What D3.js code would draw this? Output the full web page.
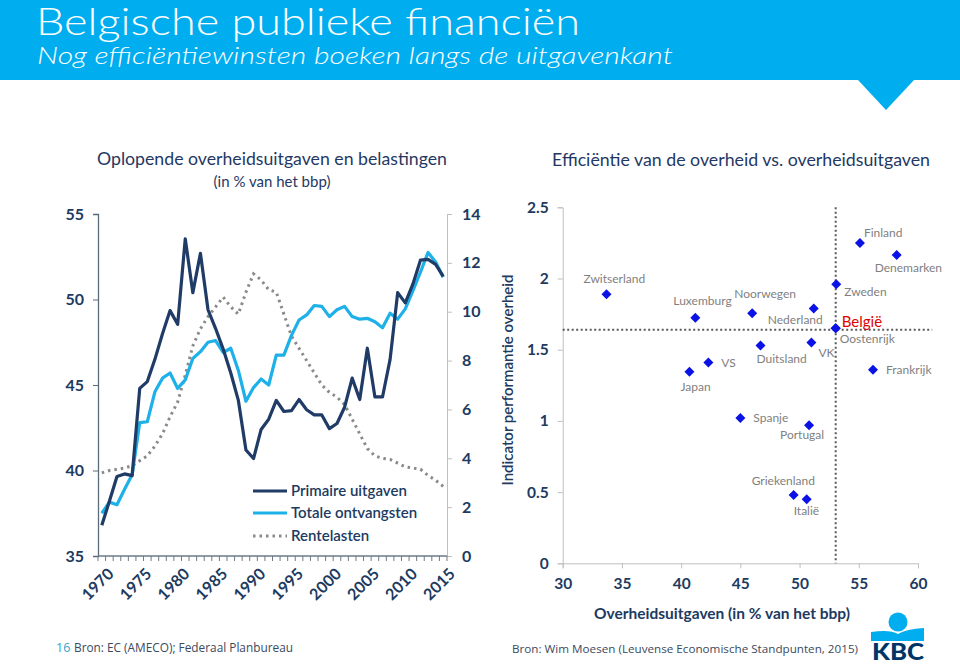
<!DOCTYPE html>
<html><head><meta charset="utf-8">
<script src="https://cdn.jsdelivr.net/npm/d3@7"></script>
<style>
html,body{margin:0;padding:0;background:#fff;}
svg{display:block;font-family:Lato,"Open Sans",sans-serif;}
</style></head>
<body>
<svg id="c" width="960" height="666"></svg>
<script>
// ---------- DATA ----------
const years = d3.range(1970, 2016);
const yearLabels = [1970,1975,1980,1985,1990,1995,2000,2005,2010,2015];
const primaireUitgaven = [36.8,38.2,39.65,39.8,39.7,44.8,45.2,46.5,48.0,49.35,48.55,53.55,50.4,52.7,49.4,48.3,47.1,45.7,44.1,41.2,40.7,42.4,43.0,44.1,43.45,43.5,44.15,43.55,43.25,43.25,42.45,42.75,43.7,45.4,44.15,47.15,44.3,44.3,46.5,50.4,49.8,50.9,52.3,52.35,52.05,51.35];
const totaleOntvangsten = [37.5,38.15,38.0,38.9,39.75,42.8,42.85,44.6,45.4,45.7,44.8,45.3,46.55,46.95,47.5,47.6,46.9,47.15,45.85,44.05,44.85,45.35,45.0,46.75,46.75,47.9,48.8,49.1,49.65,49.6,49.0,49.4,49.6,49.0,48.85,48.9,48.7,48.35,49.2,48.85,49.45,50.5,51.6,52.75,52.2,51.3];
const rentelasten = [3.4,3.5,3.55,3.6,3.7,3.9,4.1,4.5,5.0,5.7,6.3,7.4,8.6,9.3,9.8,10.2,10.6,10.2,9.9,10.8,11.55,11.3,10.9,10.8,9.9,9.0,8.5,8.0,7.5,7.0,6.7,6.5,6.2,5.6,5.0,4.4,4.1,4.0,3.95,3.8,3.65,3.6,3.55,3.3,3.1,2.85];
const leftTicks = [35,40,45,50,55];
const rightTicks = [0,2,4,6,8,10,12,14];
const seriesNames = ["Primaire uitgaven","Totale ontvangsten","Rentelasten"];

const countries = ["Zwitserland","Luxemburg","Noorwegen","Nederland","Zweden","België","Oostenrijk","Finland","Denemarken","VK","Duitsland","VS","Japan","Frankrijk","Spanje","Portugal","Griekenland","Italië"];
const uitgaven = [33.7,41.2,46.0,51.2,53.1,53.05,53.05,55.1,58.2,51.0,46.7,42.3,40.7,56.2,45.0,50.8,49.5,50.6];
const performantie = [1.89,1.725,1.756,1.79,1.96,1.65,1.65,2.25,2.165,1.55,1.53,1.41,1.345,1.36,1.02,0.97,0.48,0.45];
const belgieRef = {x: 53.05, y: 1.64};
const xTicksR = [30,35,40,45,50,55,60];
const yTicksR = [0,0.5,1,1.5,2,2.5];

// label offsets (layout only)
const labelPos = {
  "Zwitserland":[-23,-11,"start"], "Luxemburg":[-22,-13,"start"], "Noorwegen":[-18,-15,"start"],
  "Nederland":[9,16,"end"], "Zweden":[8,12,"start"], "België":[6,-1,"start"], "Oostenrijk":[4,15,"start"],
  "Finland":[4,-6,"start"], "Denemarken":[-22,17,"start"], "VK":[7,14,"start"], "Duitsland":[-4,18,"start"],
  "VS":[13,4,"start"], "Japan":[-9,19,"start"], "Frankrijk":[13,4,"start"], "Spanje":[13,4,"start"],
  "Portugal":[-29,14,"start"], "Griekenland":[-42,-10,"start"], "Italië":[-13,16,"start"]
};

// ---------- DRAW ----------
const svg = d3.select("#c");
const navy = "#1f3864";
const lblNavy = "#203a60";

// header
svg.append("rect").attr("x",0).attr("y",0).attr("width",960).attr("height",80).attr("fill","#00aeef");
svg.append("path").attr("d","M858,80 L914,80 L886,110 Z").attr("fill","#00aeef");
svg.append("text").attr("x",36).attr("y",35).attr("fill","#fff").attr("font-size",37).attr("font-weight",300)
  .attr("textLength",544).attr("lengthAdjust","spacingAndGlyphs")
  .text("Belgische publieke financiën");
svg.append("text").attr("x",37).attr("y",64).attr("fill","#fff").attr("font-size",24).attr("font-style","italic").attr("font-weight",300)
  .attr("textLength",636).attr("lengthAdjust","spacingAndGlyphs")
  .text("Nog efficiëntiewinsten boeken langs de uitgavenkant");

// titles
svg.append("text").attr("x",272).attr("y",165).attr("text-anchor","middle").attr("fill",navy).attr("font-size",17.5)
  .attr("textLength",350).attr("lengthAdjust","spacingAndGlyphs")
  .text("Oplopende overheidsuitgaven en belastingen");
svg.append("text").attr("x",272).attr("y",187).attr("text-anchor","middle").attr("fill",navy).attr("font-size",15)
  .text("(in % van het bbp)");
svg.append("text").attr("x",741).attr("y",166).attr("text-anchor","middle").attr("fill",navy).attr("font-size",17.8)
  .attr("textLength",378).attr("lengthAdjust","spacingAndGlyphs")
  .text("Efficiëntie van de overheid vs. overheidsuitgaven");

// ---- left chart ----
const xL = d3.scaleBand().domain(years).range([98,447]);
const yL = d3.scaleLinear().domain([35,55]).range([556,214]);
const yR = d3.scaleLinear().domain([0,14]).range([556,214]);
const cx = d => xL(d) + xL.bandwidth()/2;

const gl = svg.append("g");
const la = gl.append("g").attr("transform","translate(98,0)")
  .call(d3.axisLeft(yL).tickValues(leftTicks).tickSize(5).tickPadding(9));
la.select(".domain").attr("stroke","#5c6b7a").attr("stroke-width",1.3);
la.selectAll(".tick line").attr("stroke","#5c6b7a");
la.selectAll("text").attr("fill",lblNavy).attr("font-size",16).attr("font-weight",700).attr("font-family","Lato");
const ra = gl.append("g").attr("transform","translate(447,0)")
  .call(d3.axisRight(yR).tickValues(rightTicks).tickSize(5).tickPadding(10));
ra.select(".domain").attr("stroke","#bfbfbf");
ra.selectAll(".tick line").attr("stroke","#bfbfbf");
ra.selectAll("text").attr("fill",lblNavy).attr("font-size",16).attr("font-weight",700).attr("font-family","Lato");
const xa = gl.append("g").attr("transform","translate(0,556)");
xa.append("line").attr("x1",98).attr("x2",447).attr("stroke","#6d7a86").attr("stroke-width",1.3);
xa.selectAll("line.tk").data(years.concat([2016])).join("line").attr("class","tk")
  .attr("x1",d => d===2016 ? 447 : xL(d)).attr("x2",d => d===2016 ? 447 : xL(d))
  .attr("y1",0).attr("y2",5).attr("stroke","#6d7a86");
xa.selectAll("text").data(yearLabels).join("text")
  .attr("transform",d => `translate(${cx(d)+5},${11}) rotate(-45)`)
  .attr("text-anchor","end").attr("dy","0.7em").attr("fill",lblNavy).attr("font-size",16).attr("font-weight",700)
  .text(d => d);

const lineL = d3.line().x((d,i) => cx(years[i])).y(d => yL(d));
const lineR = d3.line().x((d,i) => cx(years[i])).y(d => yR(d));
gl.append("path").datum(rentelasten).attr("d",lineR).attr("fill","none").attr("stroke","#8a8a8a")
  .attr("stroke-width",3).attr("stroke-dasharray","2.5,4");
gl.append("path").datum(totaleOntvangsten).attr("d",lineL).attr("fill","none").attr("stroke","#1eb0e8")
  .attr("stroke-width",3.2).attr("stroke-linejoin","round");
gl.append("path").datum(primaireUitgaven).attr("d",lineL).attr("fill","none").attr("stroke","#1f3b66")
  .attr("stroke-width",3.2).attr("stroke-linejoin","round");

const legY = [491,513,536];
const legStyles = [{c:"#1f3b66",da:null},{c:"#1eb0e8",da:null},{c:"#8a8a8a",da:"2.5,4"}];
seriesNames.forEach((n,i) => {
  gl.append("line").attr("x1",253).attr("x2",287).attr("y1",legY[i]).attr("y2",legY[i])
    .attr("stroke",legStyles[i].c).attr("stroke-width",3).attr("stroke-dasharray",legStyles[i].da);
  gl.append("text").attr("x",291).attr("y",legY[i]+5).attr("fill",lblNavy).attr("font-size",15).attr("font-weight",600)
    .text(n);
});

// ---- right chart ----
const xS = d3.scaleLinear().domain([30,60]).range([562.7,918]);
const yS = d3.scaleLinear().domain([0,2.5]).range([563.3,207.3]);
const gr = svg.append("g");
const ya2 = gr.append("g").attr("transform","translate(562.7,0)")
  .call(d3.axisLeft(yS).tickValues(yTicksR).tickSize(5).tickPadding(9).tickFormat(d => String(d)));
ya2.select(".domain").attr("stroke","#bfbfbf");
ya2.selectAll(".tick line").attr("stroke","#bfbfbf");
ya2.selectAll("text").attr("fill",lblNavy).attr("font-size",15.5).attr("font-weight",700).attr("font-family","Lato");
const xa2 = gr.append("g").attr("transform","translate(0,563.3)")
  .call(d3.axisBottom(xS).tickValues(xTicksR).tickSize(5).tickPadding(10));
xa2.select(".domain").attr("stroke","#bfbfbf");
xa2.selectAll(".tick line").attr("stroke","#bfbfbf");
xa2.selectAll("text").attr("fill",lblNavy).attr("font-size",15.5).attr("font-weight",700).attr("font-family","Lato");

gr.append("line").attr("x1",xS(belgieRef.x)).attr("x2",xS(belgieRef.x)).attr("y1",yS(2.5)).attr("y2",yS(0))
  .attr("stroke","#595959").attr("stroke-width",2).attr("stroke-dasharray","2,2.5");
gr.append("line").attr("x1",xS(30)).attr("x2",xS(61.2)).attr("y1",yS(belgieRef.y)).attr("y2",yS(belgieRef.y))
  .attr("stroke","#595959").attr("stroke-width",2).attr("stroke-dasharray","2,2.5");

gr.append("text").attr("transform",`translate(513,380) rotate(-90)`).attr("text-anchor","middle")
  .attr("fill",lblNavy).attr("font-size",15).attr("font-weight",600).text("Indicator performantie overheid");
gr.append("text").attr("x",722).attr("y",619).attr("text-anchor","middle")
  .attr("fill",lblNavy).attr("font-size",15.5).attr("font-weight",700).text("Overheidsuitgaven (in % van het bbp)");

const sym = d3.symbol().type(d3.symbolSquare).size(50);
countries.forEach((c,i) => {
  const px = xS(uitgaven[i]), py = yS(performantie[i]);
  gr.append("path").attr("d",sym()).attr("transform",`translate(${px},${py}) rotate(45)`).attr("fill","#0a12e6");
  const lp = labelPos[c];
  const isBE = c === "België";
  gr.append("text").attr("x",px+lp[0]).attr("y",py+lp[1]).attr("text-anchor",lp[2])
    .attr("fill",isBE ? "#e00000" : "#7f7f7f").attr("font-size",isBE ? 15 : 12).attr("font-family","Lato")
    .text(c);
});

// footer
svg.append("text").attr("x",56).attr("y",652).attr("fill","#3aa0c8").attr("font-size",12.5).attr("font-family","'Open Sans',sans-serif").text("16");
svg.append("text").attr("x",74).attr("y",652).attr("fill","#3b4a5e").attr("font-size",12.5).attr("font-family","'Open Sans',sans-serif")
  .attr("textLength",219).attr("lengthAdjust","spacingAndGlyphs").text("Bron: EC (AMECO);  Federaal Planbureau");
svg.append("text").attr("x",512).attr("y",653).attr("fill","#3b4a5e").attr("font-size",11.6).attr("font-family","'Open Sans',sans-serif")
  .attr("textLength",346).attr("lengthAdjust","spacingAndGlyphs").text("Bron: Wim Moesen (Leuvense Economische  Standpunten, 2015)");

// KBC logo
const kbc = svg.append("g");
kbc.append("circle").attr("cx",898).attr("cy",622).attr("r",9.5).attr("fill","#00aeef");
kbc.append("path").attr("d","M871,632 Q890,629 898,634 Q906,629 924,628 L924,641 L871,641 Z").attr("fill","#00aeef");
kbc.append("text").attr("x",898).attr("y",660).attr("text-anchor","middle").attr("fill","#003665")
  .attr("font-size",23).attr("font-weight",900).attr("font-family","Lato").attr("textLength",52).attr("lengthAdjust","spacingAndGlyphs").text("KBC");
</script>
</body></html>
